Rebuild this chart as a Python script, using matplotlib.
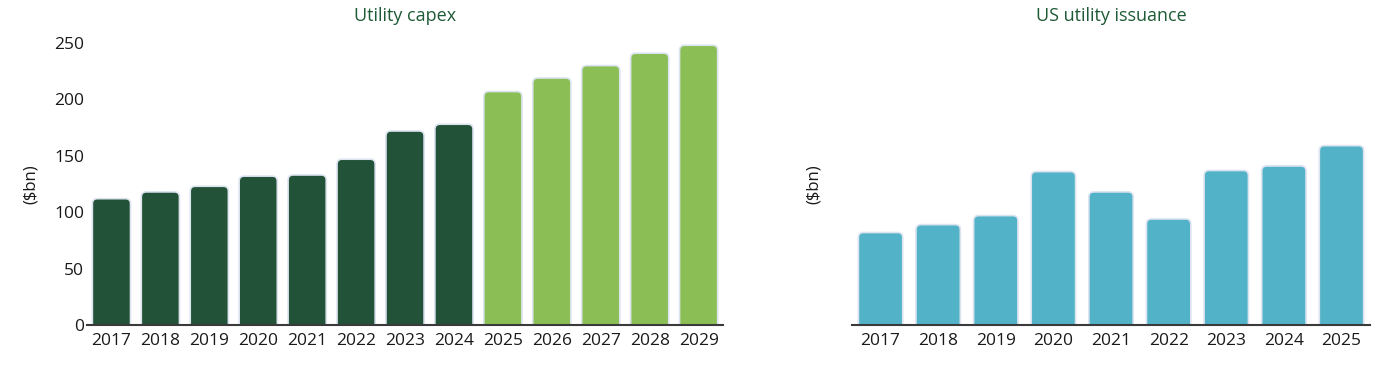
import matplotlib.pyplot as plt
from matplotlib.patches import FancyBboxPatch

plt.rcParams['font.family'] = ['Open Sans', 'DejaVu Sans']

capex_years = ['2017', '2018', '2019', '2020', '2021', '2022', '2023', '2024',
               '2025', '2026', '2027', '2028', '2029']
capex_values = [112, 118, 123, 132, 133, 147, 172, 178, 207, 219, 230, 241, 248]
capex_forecast_from = '2025'

issuance_years = ['2017', '2018', '2019', '2020', '2021', '2022', '2023', '2024', '2025']
issuance_values = [82, 89, 97, 136, 118, 94, 137, 141, 159]

dark_green = '#225237'
light_green = '#8bbf56'
teal = '#51b2c8'
title_color = '#1e5a36'
edge = '#dde4f0'


def rounded_bars(ax, labels, values, colors, width, px_per_x, px_per_y):
    # rounded top corners, the bottom is pushed below 0 and clipped away
    r = 5 / px_per_x
    aspect = (5 / px_per_y) / r
    for i, (v, c) in enumerate(zip(values, colors)):
        p = FancyBboxPatch((i - width / 2, -10), width, v + 10,
                           boxstyle=f'round,pad=0,rounding_size={r}',
                           mutation_aspect=aspect, facecolor=c,
                           edgecolor=edge, linewidth=1.2)
        ax.add_patch(p)
    ax.set_xticks(range(len(labels)))
    ax.set_xticklabels(labels)
    ax.set_xlim(-0.5, len(labels) - 0.5)


fig = plt.figure(figsize=(13.94, 3.74), dpi=100)

ax1 = fig.add_axes([0.0624, 0.131, 0.4563, 0.754])
ax2 = fig.add_axes([0.611, 0.131, 0.372, 0.754])

start = capex_years.index(capex_forecast_from)
cols = [dark_green if i < start else light_green for i in range(len(capex_years))]
rounded_bars(ax1, capex_years, capex_values, cols, 0.78, 49, 1.13)
rounded_bars(ax2, issuance_years, issuance_values, [teal] * len(issuance_years), 0.77, 58, 1.13)

for ax in (ax1, ax2):
    ax.set_ylim(0, 250)
    for s in ('top', 'right', 'left'):
        ax.spines[s].set_visible(False)
    ax.spines['bottom'].set_color('#3a3a3a')
    ax.spines['bottom'].set_linewidth(1.5)
    ax.tick_params(axis='x', length=0, labelsize=12.5, pad=6, colors='#1a1a1a')
    ax.tick_params(axis='y', length=0, labelsize=12.5, pad=2, colors='#1a1a1a')
    ax.set_ylabel('($bn)', fontsize=12, color='#1a1a1a')

ax1.set_yticks([0, 50, 100, 150, 200, 250])
ax2.set_yticks([])
ax1.yaxis.set_label_coords(-0.075, 0.5)
ax2.yaxis.set_label_coords(-0.058, 0.5)

ax1.set_title('Utility capex', fontsize=13, color=title_color, pad=16)
ax2.set_title('US utility issuance', fontsize=13, color=title_color, pad=16)

fig.savefig('out.png', dpi=100)
